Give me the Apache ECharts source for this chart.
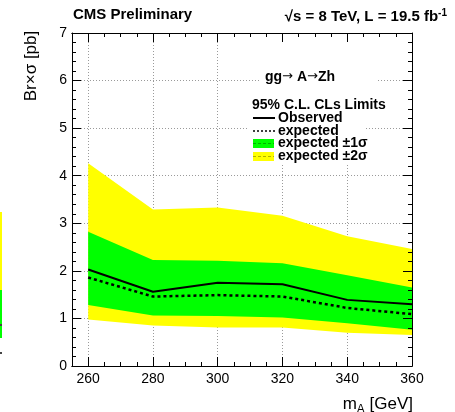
<!DOCTYPE html>
<html>
<head>
<meta charset="utf-8">
<script src="https://cdn.jsdelivr.net/npm/echarts@6/dist/echarts.min.js"></script>
<style>
  html, body { margin: 0; padding: 0; background: #fff; }
  #chart { width: 455px; height: 412px; }
</style>
</head>
<body>
<div id="chart"></div>
<script>
// A -> Zh search: 95% CL CLs upper limits on Br x sigma versus m_A
const masses   = [260, 280, 300, 320, 340, 360];
const observed = [2.03, 1.56, 1.75, 1.72, 1.39, 1.30];
const expected = [1.86, 1.46, 1.49, 1.46, 1.22, 1.09];
const minus2   = [0.98, 0.85, 0.81, 0.81, 0.70, 0.65];
const minus1   = [1.28, 1.06, 1.05, 1.02, 0.90, 0.76];
const plus1    = [2.82, 2.23, 2.21, 2.16, 1.91, 1.65];
const plus2    = [4.26, 3.29, 3.33, 3.16, 2.73, 2.46];
const xMajorTicks = [260, 280, 300, 320, 340, 360];

const FONT = "'Liberation Sans', Arial, Helvetica, sans-serif";
const X_MIN = 255, X_MAX = 360;

const pairs = (ys) => masses.map((m, i) => [m, ys[i]]);
const bandRows = (lo, hi) => masses.map((m, i) => [m, lo[i], hi[i]]);

// Filled band between a lower and an upper curve, drawn as one polygon.
function bandSeries(lo, hi, color) {
  return {
    type: 'custom', xAxisIndex: 0, yAxisIndex: 0, silent: true, z: 2,
    data: bandRows(lo, hi),
    encode: { x: 0, y: [1, 2] },
    renderItem: function (params, api) {
      if (params.dataIndex !== 0) return null;
      const upper = masses.map((m, i) => api.coord([m, hi[i]]));
      const lower = masses.map((m, i) => api.coord([m, lo[i]])).reverse();
      return {
        type: 'polygon',
        shape: { points: upper.concat(lower) },
        style: { fill: color, stroke: null }
      };
    }
  };
}

const gridLine = { show: true, lineStyle: { color: '#9a9a9a', width: 1, type: [1, 2] } };

function xAxisDef(position, opts) {
  return Object.assign({
    type: 'value', position: position, min: X_MIN, max: X_MAX,
    axisLine: { show: true, onZero: false, lineStyle: { color: '#000', width: 1 } },
    axisTick: { show: false },
    axisLabel: { show: false },
    splitLine: { show: false }
  }, opts);
}

const option = {
  animation: false,
  backgroundColor: '#fff',
  grid: { left: 72, right: 43, top: 33, bottom: 46, containLabel: false },
  xAxis: [
    xAxisDef('bottom', {
      axisTick: { show: true, inside: true, length: 9, customValues: xMajorTicks, lineStyle: { color: '#000' } },
      axisLabel: { show: true, customValues: xMajorTicks, margin: 6, fontFamily: FONT, fontSize: 14, color: '#000' },
      splitLine: gridLine
    }),
    xAxisDef('bottom', {
      interval: 5,
      axisTick: { show: true, inside: true, length: 4, lineStyle: { color: '#000' } }
    }),
    xAxisDef('top', {
      z: 5,
      axisTick: { show: true, inside: true, length: 9, customValues: xMajorTicks, lineStyle: { color: '#000' } }
    }),
    xAxisDef('top', {
      z: 5, interval: 5,
      axisTick: { show: true, inside: true, length: 4, lineStyle: { color: '#000' } }
    })
  ],
  yAxis: [
    {
      type: 'value', position: 'left', min: 0, max: 7, interval: 1,
      axisLine: { show: true, onZero: false, lineStyle: { color: '#000', width: 1 } },
      axisTick: { show: true, inside: true, length: 9, lineStyle: { color: '#000' } },
      minorTick: { show: true, splitNumber: 5, length: 4, lineStyle: { color: '#000' } },
      axisLabel: { margin: 5, fontFamily: FONT, fontSize: 14, color: '#000' },
      splitLine: gridLine
    },
    {
      type: 'value', position: 'right', min: 0, max: 7, interval: 1, z: 5,
      axisLine: { show: true, onZero: false, lineStyle: { color: '#000', width: 1 } },
      axisTick: { show: true, inside: true, length: 9, lineStyle: { color: '#000' } },
      minorTick: { show: true, splitNumber: 5, length: 4, lineStyle: { color: '#000' } },
      axisLabel: { show: false },
      splitLine: { show: false }
    }
  ],
  series: [
    bandSeries(minus2, plus2, '#ffff00'),
    bandSeries(minus1, plus1, '#00ff00'),
    // expected limit
    { type: 'line', xAxisIndex: 0, yAxisIndex: 0, data: pairs(expected), symbol: 'none', z: 4,
      lineStyle: { color: '#000', width: 2.5, type: [3, 3] } },
    // observed limit
    { type: 'line', xAxisIndex: 0, yAxisIndex: 0, data: pairs(observed), symbol: 'none', z: 4,
      lineStyle: { color: '#000', width: 2 } }
  ],
  graphic: [
    // neighbouring panel edge at the far left
    { type: 'rect', z: 1, shape: { x: 0, y: 212, width: 2, height: 78 }, style: { fill: '#ffff00' } },
    { type: 'rect', z: 1, shape: { x: 0, y: 290, width: 2, height: 48 }, style: { fill: '#00ff00' } },
    { type: 'rect', z: 1, shape: { x: 0, y: 324, width: 2, height: 2 }, style: { fill: '#444' } },
    { type: 'rect', z: 1, shape: { x: 0, y: 352, width: 2, height: 2 }, style: { fill: '#444' } },

    // header
    { type: 'text', z: 10, left: 73, top: 7,
      style: { text: 'CMS Preliminary', font: 'bold 15px ' + FONT, fill: '#000' } },
    { type: 'text', z: 10, x: 447, y: 16,
      style: {
        text: '{m|√s = 8 TeV, L = 19.5 fb}{sup|-1}', align: 'right', verticalAlign: 'middle',
        rich: {
          m: { font: 'bold 15px ' + FONT, fill: '#000', verticalAlign: 'bottom' },
          sup: { font: 'bold 10px ' + FONT, fill: '#000', verticalAlign: 'top', padding: [0, 0, 6, 0] }
        }
      } },

    // axis titles
    { type: 'text', z: 10, x: 31, y: 66, rotation: Math.PI / 2,
      style: { text: 'Br×σ [pb]', font: '17px ' + FONT, fill: '#000', align: 'center', verticalAlign: 'middle' } },
    { type: 'text', z: 10, x: 413, y: 404,
      style: {
        text: '{m|m}{s|A}{m| [GeV]}', align: 'right', verticalAlign: 'middle',
        rich: {
          m: { font: '17px ' + FONT, fill: '#000', verticalAlign: 'bottom' },
          s: { font: '12px ' + FONT, fill: '#000', verticalAlign: 'bottom', padding: [0, 0, -3, 0] }
        }
      } },

    // legend backgrounds
    { type: 'rect', z: 1, shape: { x: 260, y: 34, width: 117, height: 61 }, style: { fill: '#fff' } },
    { type: 'rect', z: 1, shape: { x: 249, y: 95, width: 117, height: 68 }, style: { fill: '#fff' } },

    { type: 'text', z: 10, x: 265, y: 77,
      style: {
        text: '{b|gg}{a|→}{b| A}{a|→}{b|Zh}', verticalAlign: 'middle',
        rich: {
          b: { font: 'bold 14px ' + FONT, fill: '#000' },
          a: { font: '13px "DejaVu Sans", sans-serif', fill: '#000' }
        }
      } },
    { type: 'text', z: 10, x: 252, y: 105,
      style: { text: '95% C.L. CLs Limits', font: 'bold 14px ' + FONT, fill: '#000', verticalAlign: 'middle' } },

    { type: 'line', z: 10, shape: { x1: 253, y1: 118, x2: 275, y2: 118 }, style: { stroke: '#000', lineWidth: 2 } },
    { type: 'text', z: 10, x: 278, y: 118,
      style: { text: 'Observed', font: 'bold 14px ' + FONT, fill: '#000', verticalAlign: 'middle' } },

    { type: 'line', z: 10, shape: { x1: 253, y1: 131, x2: 275, y2: 131 }, style: { stroke: '#000', lineWidth: 1.5, lineDash: [2, 2] } },
    { type: 'text', z: 10, x: 278, y: 131,
      style: { text: 'expected', font: 'bold 14px ' + FONT, fill: '#000', verticalAlign: 'middle' } },

    { type: 'rect', z: 10, shape: { x: 253, y: 139, width: 21, height: 9 }, style: { fill: '#00ff00' } },
    { type: 'line', z: 11, shape: { x1: 253, y1: 143.5, x2: 274, y2: 143.5 }, style: { stroke: 'rgba(0,0,0,0.3)', lineWidth: 1, lineDash: [3, 2] } },
    { type: 'text', z: 10, x: 278, y: 143.5,
      style: { text: 'expected ±1σ', font: 'bold 14px ' + FONT, fill: '#000', verticalAlign: 'middle' } },

    { type: 'rect', z: 10, shape: { x: 253, y: 152, width: 21, height: 9 }, style: { fill: '#ffff00' } },
    { type: 'line', z: 11, shape: { x1: 253, y1: 156.5, x2: 274, y2: 156.5 }, style: { stroke: 'rgba(0,0,0,0.3)', lineWidth: 1, lineDash: [3, 2] } },
    { type: 'text', z: 10, x: 278, y: 156.5,
      style: { text: 'expected ±2σ', font: 'bold 14px ' + FONT, fill: '#000', verticalAlign: 'middle' } }
  ]
};

const chart = echarts.init(document.getElementById('chart'), null, { renderer: 'canvas' });
chart.setOption(option);
</script>
</body>
</html>
